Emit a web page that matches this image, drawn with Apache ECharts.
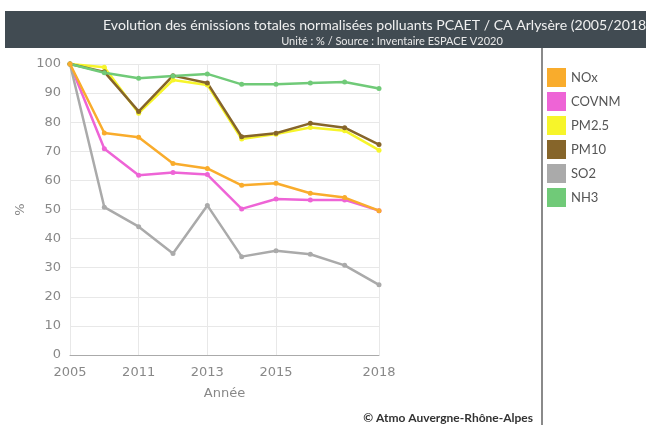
<!DOCTYPE html>
<html>
<head>
<meta charset="utf-8">
<script src="https://cdn.jsdelivr.net/npm/echarts@6/dist/echarts.min.js"></script>
<style>
  html, body { margin: 0; padding: 0; background: #fff; }
  #chart { width: 646px; height: 425px; }
</style>
</head>
<body>
<div id="chart"></div>
<script>
// years on the category axis
const years = ['2005', '2010', '2011', '2012', '2013', '2014', '2015', '2016', '2017', '2018'];
// indices of the years that get a label / vertical grid line
const shownYears = [0, 2, 4, 6, 9];

const nox   = [100, 76.3, 74.8, 65.8, 64.1, 58.3, 59.0, 55.6, 54.1, 49.6];
const covnm = [100, 70.9, 61.8, 62.7, 62.0, 50.2, 53.6, 53.3, 53.3, 49.6];
const pm25  = [100, 98.9, 83.1, 94.5, 92.8, 74.2, 75.9, 78.2, 77.1, 70.4];
const pm10  = [100, 97.3, 83.7, 96.0, 93.5, 75.0, 76.2, 79.6, 78.1, 72.3];
const so2   = [100, 50.8, 44.1, 34.9, 51.4, 33.8, 35.8, 34.6, 30.8, 24.1];
const nh3   = [100, 97.0, 95.1, 95.9, 96.6, 93.0, 93.0, 93.5, 93.8, 91.6];

const names  = ['NOx', 'COVNM', 'PM2.5', 'PM10', 'SO2', 'NH3'];
const values = [nox, covnm, pm25, pm10, so2, nh3];
const colors = ['#F9AC2C', '#EE64D6', '#F7F52A', '#86652A', '#AAAAAA', '#70CA78'];

const chart = echarts.init(document.getElementById('chart'));

const showIdx = (i) => shownYears.indexOf(i) >= 0;

chart.setOption({
  animation: false,
  color: colors,
  title: [
    {
      text: 'Evolution des émissions totales normalisées polluants PCAET / CA Arlysère (2005/2018)',
      left: 98,
      top: 13,
      textStyle: { color: '#f0f0f0', fontSize: 14.1, fontWeight: 'normal', fontFamily: 'Lato' }
    },
    {
      text: 'Unité : % / Source : Inventaire ESPACE V2020',
      left: 387,
      textAlign: 'center',
      top: 31,
      textStyle: { color: '#e8e8e8', fontSize: 11, fontWeight: 'normal', fontFamily: 'Lato' }
    }
  ],
  graphic: [
    {
      type: 'rect', z: -1,
      shape: { x: 5, y: 11, width: 641, height: 37 },
      style: { fill: '#414b52' }
    },
    {
      type: 'rect',
      shape: { x: 541, y: 48, width: 2, height: 377 },
      style: { fill: '#8a8a8a' }
    },
    {
      type: 'text',
      right: 113, top: 412,
      style: { text: '© Atmo Auvergne-Rhône-Alpes', fill: '#333', font: 'bold 12px Lato' }
    }
  ],
  legend: {
    orient: 'vertical',
    left: 547,
    top: 68,
    padding: 0,
    icon: 'rect',
    itemWidth: 19,
    itemHeight: 19,
    itemGap: 5,
    selectedMode: false,
    textStyle: { color: '#555', fontSize: 13, fontFamily: 'Lato' },
    data: names
  },
  grid: { left: 70, right: 267, top: 64, bottom: 70 },
  xAxis: {
    type: 'category',
    boundaryGap: false,
    data: years,
    name: 'Année',
    nameLocation: 'middle',
    nameGap: 32,
    nameTextStyle: { color: '#888', fontSize: 13, fontFamily: 'DejaVu Sans' },
    axisLine: { lineStyle: { color: '#aaa', width: 1 } },
    axisTick: { show: false },
    axisLabel: {
      interval: (i) => showIdx(i),
      color: '#888', fontSize: 13, fontFamily: 'DejaVu Sans', margin: 11
    },
    splitLine: {
      show: true,
      interval: (i) => showIdx(i),
      lineStyle: { color: '#e8e8e8' }
    }
  },
  yAxis: {
    type: 'value',
    min: 0, max: 100, interval: 10,
    name: '%',
    nameLocation: 'middle',
    nameGap: 43,
    nameRotate: 90,
    nameTextStyle: { color: '#888', fontSize: 13, fontFamily: 'DejaVu Sans' },
    axisLine: { show: false },
    axisTick: { show: false },
    axisLabel: { color: '#888', fontSize: 13, fontFamily: 'DejaVu Sans', margin: 9 },
    splitLine: { lineStyle: { color: '#e8e8e8' } }
  },
  series: names.map((n, k) => ({
    name: n,
    type: 'line',
    data: values[k],
    z: n === 'NOx' ? 3 : 2,
    symbol: 'circle',
    symbolSize: 5,
    lineStyle: { width: 2.5, color: colors[k] },
    itemStyle: { color: colors[k] }
  }))
});
</script>
</body>
</html>
